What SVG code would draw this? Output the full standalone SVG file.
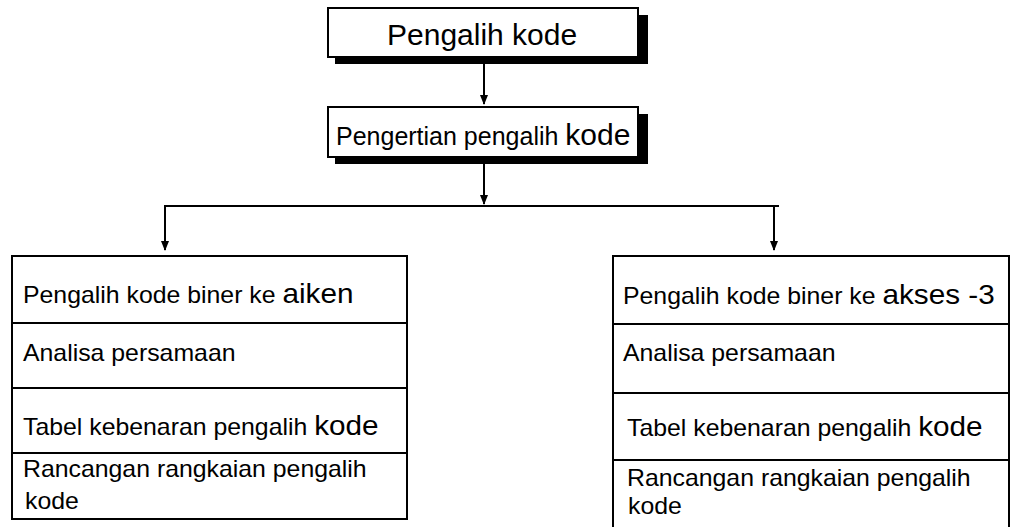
<svg xmlns="http://www.w3.org/2000/svg" width="1012" height="527" viewBox="0 0 1012 527">
<style>
  text { font-family: "Liberation Sans", Arial, sans-serif; fill: #000; }
  .s { font-size: 25px; }
  .b { font-size: 30px; }
  .ts { font-size: 23px; }
  .tb { font-size: 27.5px; }
  .box { fill: #fff; stroke: #000; stroke-width: 2; }
  .shadow { fill: #000; }
  .line { stroke: #000; stroke-width: 2; fill: none; }
  .conn { stroke: #000; stroke-width: 2; fill: none; }
</style>
<defs>
  <marker id="arrow" markerWidth="10" markerHeight="10" refX="9" refY="5" orient="auto" markerUnits="userSpaceOnUse">
    <path d="M0,1 L10,5 L0,9 Z" fill="#000"/>
  </marker>
</defs>
<rect width="1012" height="527" fill="#fff"/>

<g id="connectors">
  <line class="conn" x1="484" y1="57" x2="484" y2="104" marker-end="url(#arrow)"/>
  <line class="conn" x1="484" y1="164" x2="484" y2="204" marker-end="url(#arrow)"/>
  <line class="conn" x1="164" y1="206" x2="779" y2="206"/>
  <line class="conn" x1="165" y1="206" x2="165" y2="250" marker-end="url(#arrow)"/>
  <line class="conn" x1="774" y1="206" x2="774" y2="250" marker-end="url(#arrow)"/>
</g>

<g id="node-title">
  <rect class="shadow" x="335" y="15" width="313" height="49"/>
  <rect class="box" x="328" y="8" width="310" height="49"/>
  <text class="b" x="387" y="45">Pengalih kode</text>
</g>

<g id="node-pengertian">
  <rect class="shadow" x="335" y="114" width="313" height="50"/>
  <rect class="box" x="328" y="107" width="310" height="50"/>
  <text x="336" y="145"><tspan class="s">Pengertian pengalih </tspan><tspan class="b">kode</tspan></text>
</g>

<g id="node-aiken">
  <rect class="box" x="12" y="256" width="395" height="263"/>
  <line class="line" x1="12" y1="323" x2="407" y2="323"/>
  <line class="line" x1="12" y1="388" x2="407" y2="388"/>
  <line class="line" x1="12" y1="453" x2="407" y2="453"/>
  <text transform="translate(23,303) scale(1.08,1)"><tspan class="ts">Pengalih kode biner ke </tspan><tspan class="tb">aiken</tspan></text>
  <text class="ts" transform="translate(23,361) scale(1.08,1)">Analisa persamaan</text>
  <text transform="translate(23,435) scale(1.08,1)"><tspan class="ts">Tabel kebenaran pengalih </tspan><tspan class="tb">kode</tspan></text>
  <text class="ts" transform="translate(23,477) scale(1.08,1)">Rancangan rangkaian pengalih</text>
  <text class="ts" transform="translate(25,509) scale(1.08,1)">kode</text>
</g>

<g id="node-akses3">
  <path class="line" d="M613,532 L613,256 L1009,256 L1009,532"/>
  <line class="line" x1="613" y1="324" x2="1009" y2="324"/>
  <line class="line" x1="613" y1="393" x2="1009" y2="393"/>
  <line class="line" x1="613" y1="460" x2="1009" y2="460"/>
  <text transform="translate(623,304) scale(1.08,1)"><tspan class="ts">Pengalih kode biner ke </tspan><tspan class="tb">akses -3</tspan></text>
  <text class="ts" transform="translate(623,361) scale(1.08,1)">Analisa persamaan</text>
  <text transform="translate(627,436) scale(1.08,1)"><tspan class="ts">Tabel kebenaran pengalih </tspan><tspan class="tb">kode</tspan></text>
  <text class="ts" transform="translate(627,486) scale(1.08,1)">Rancangan rangkaian pengalih</text>
  <text class="ts" transform="translate(628,514) scale(1.08,1)">kode</text>
</g>
</svg>
